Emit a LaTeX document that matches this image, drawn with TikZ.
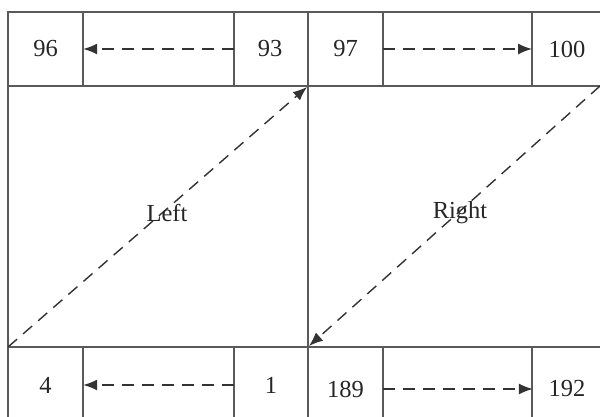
\documentclass[tikz,border=0pt]{standalone}
\usepackage{fontspec}
\setmainfont{Liberation Serif}
\usetikzlibrary{arrows.meta}
\definecolor{gridc}{HTML}{5A5A5A}
\definecolor{arrc}{HTML}{333333}
\begin{document}
\begin{tikzpicture}[x=1pt,y=-1pt,
  grid/.style={draw=gridc,line width=1.2pt},
  cell/.style={inner sep=0pt,font=\fontsize{24.5}{28}\selectfont,text=black!85},
  lbl/.style={inner sep=0pt,font=\fontsize{24.5}{28}\selectfont,text=black!85},
  arr/.style={draw=arrc,line width=1.4pt,dash pattern=on 12pt off 8pt,
    -{Latex[length=14pt,width=11pt]}}]
\useasboundingbox (0,0) rectangle (600,417);
% grid
\draw[grid] (600,12) -- (8,12) -- (8,417);
\draw[grid] (8,86) -- (600,86);
\draw[grid] (8,347) -- (600,347);
\foreach \x in {83,234,383,532}{
  \draw[grid] (\x,12) -- (\x,86);
  \draw[grid] (\x,347) -- (\x,417);
}
\draw[grid] (308,12) -- (308,417);
% cells
\node[cell,minimum width=75pt,minimum height=74pt] (n96) at (45.5,49) {96};
\node[cell] (n93) at (270,49) {93};
\node[cell,minimum width=75pt,minimum height=74pt] (n97) at (345.5,49) {97};
\node[cell,minimum width=68pt,minimum height=74pt] (n100) at (567,49) {100};
\node[cell,minimum width=75pt,minimum height=74pt] (n4) at (45.5,385) {4};
\node[cell,minimum width=74pt,minimum height=74pt] (n1) at (271,385) {1};
\node[cell,minimum width=75pt,minimum height=74pt] (n189) at (345.5,389) {189};
\node[cell,minimum width=68pt,minimum height=74pt] (n192) at (567,389) {192};
% coordinates
\coordinate (a93) at (234,49);
\coordinate (a100) at (532,49);
\coordinate (LB) at (8,347);
\coordinate (MT) at (307,87);
\coordinate (RT) at (600,86);
\coordinate (MB) at (309,346);
% arrows
\draw[arr] (a93) -- (n96.east);
\draw[arr] (n97.east) -- (a100);
\draw[arr] (n1.west) -- (n4.east);
\draw[arr] (n189.east) -- (n192.west);
\draw[arr] (LB) -- (MT);
\draw[arr] (RT) -- (MB);
% labels
\node[lbl] (left) at (167,213) {Left};
\node[lbl] (right) at (460,213) {Right};
\end{tikzpicture}
\end{document}
